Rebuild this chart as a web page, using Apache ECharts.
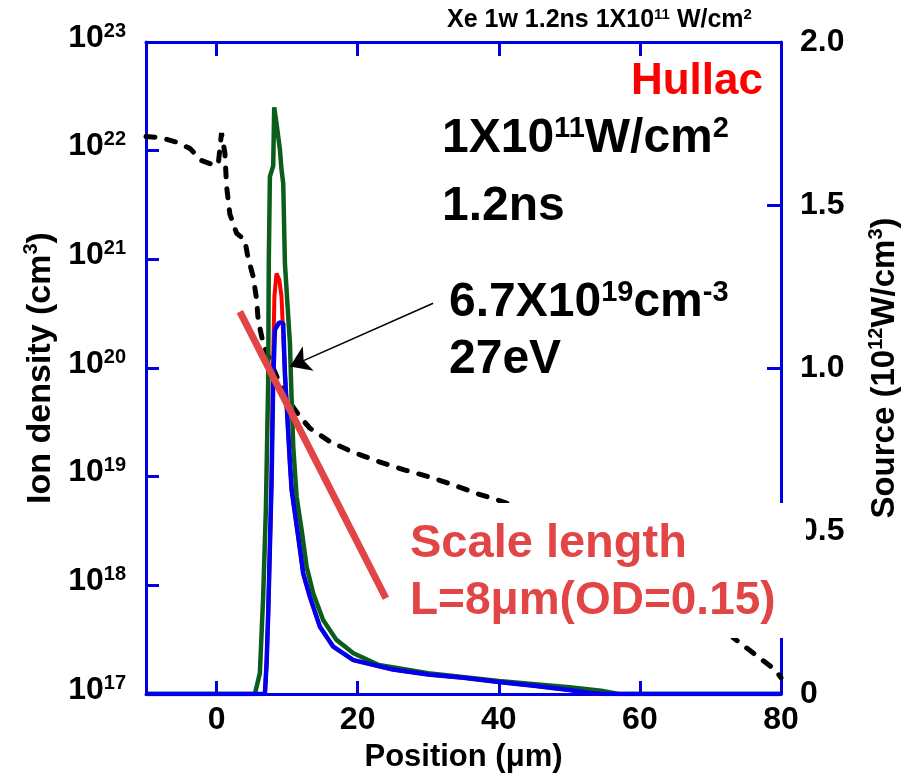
<!DOCTYPE html>
<html><head><meta charset="utf-8">
<script src="https://cdn.jsdelivr.net/npm/echarts@6/dist/echarts.min.js"></script>
<style>html,body{margin:0;padding:0;background:#fff}#c{width:914px;height:778px}</style>
</head><body><div id="c"></div>
<script>
// ---- tick values ----
const xTicks = [0, 20, 40, 60, 80];
const densityTicks = [1e17, 1e18, 1e19, 1e20, 1e21, 1e22, 1e23];
const sourceTicks = [0, 0.5, 1.0, 1.5, 2.0];

// ---- ion density (black dashed, left log axis) ----
const densityX = [-10, -8.0, -5.7, -3.8, -2.1, -0.95, 0.23, 0.7, 1.18, 1.42, 1.89, 2.84, 4.0, 4.44, 5.2, 5.67, 5.9, 6.6, 7.56, 9.69, 11.82, 13.23, 16.07, 19.15, 22.92, 26.71, 30.26, 33.56, 36.88, 40.18, 50, 60, 70, 73.23, 79.2, 80];
const ionDensity = [1.35e22, 1.32e22, 1.20e22, 1.05e22, 8.1e21, 7.6e21, 7.4e21, 1.45e22, 9.5e21, 4.7e21, 2.6e21, 1.74e21, 1.51e21, 1.05e21, 6.9e20, 4.3e20, 2.75e20, 1.7e20, 1.17e20, 5.6e19, 3.56e19, 2.79e19, 2.1e19, 1.7e19, 1.38e19, 1.15e19, 9.9e18, 8.4e18, 7.0e18, 6.0e18, 3.5e18, 1.8e18, 6.3e17, 3.3e17, 1.66e17, 1.41e17];

// ---- source (right linear axis, 10^12 W/cm^3) ----
const greenX = [-10, 5.43, 6.14, 6.61, 7.0, 7.32, 7.4, 7.56, 8.03, 8.17, 8.5, 8.98, 9.2, 9.45, 9.69, 10.4, 10.6, 10.87, 11.35, 12.06, 12.77, 13.7, 15.1, 17.0, 19.4, 23, 30, 40, 50, 54.5, 57, 80];
const sourceGreen = [0, 0, 0.064, 0.3, 0.575, 0.963, 1.32, 1.587, 1.62, 1.80, 1.75, 1.67, 1.61, 1.566, 1.32, 1.075, 0.93, 0.759, 0.605, 0.503, 0.39, 0.309, 0.227, 0.166, 0.125, 0.089, 0.064, 0.04, 0.021, 0.01, 0, 0];

const redX = [-10, 6.85, 7.09, 7.32, 7.8, 8.0, 8.2, 8.5, 8.9, 9.2, 9.45, 9.69, 10.4, 10.64, 11.57, 12.28, 13.23, 14.65, 16.54, 19.4, 25, 30, 35, 40, 45, 50, 53, 55, 80];
const sourceRed = [0, 0, 0.094, 0.247, 0.656, 1.0, 1.22, 1.29, 1.27, 1.22, 1.10, 0.983, 0.708, 0.626, 0.483, 0.37, 0.298, 0.206, 0.145, 0.104, 0.075, 0.06, 0.05, 0.037, 0.025, 0.012, 0.003, 0, 0];

const blueX = [-10, 6.85, 7.09, 7.32, 7.8, 8.03, 8.27, 8.88, 9.45, 9.69, 10.4, 10.64, 11.57, 12.28, 13.23, 14.65, 16.54, 19.4, 25, 30, 35, 40, 45, 50, 53, 55, 80];
const sourceBlue = [0, 0, 0.094, 0.247, 0.656, 0.963, 1.117, 1.14, 1.137, 0.983, 0.708, 0.626, 0.483, 0.37, 0.298, 0.206, 0.145, 0.104, 0.075, 0.06, 0.05, 0.037, 0.025, 0.012, 0.003, 0, 0];

// ---- annotations in data coordinates ----
const scaleLineX = [3.3, 24.0];
const scaleLineN = [3.3e20, 7.6e17];
const arrowX = [30.7, 10.4];
const arrowN = [3.94e20, 1.03e20];

const F = '"Liberation Sans", Arial, sans-serif';
const BLUE = '#0000e6';
const pairs = (xs, ys) => xs.map((x, i) => [x, ys[i]]);

const chart = echarts.init(document.getElementById('c'), null, {renderer: 'canvas'});

const axisLineStyle = {color: BLUE, width: 3};
const tickStyle = {color: BLUE, width: 3};
const lblBase = {fontFamily: F, fontWeight: 'bold', color: '#000'};

chart.setOption({
  animation: false,
  backgroundColor: '#fff',
  grid: {left: 146, right: 133, top: 42, bottom: 84, containLabel: false, outerBoundsMode: 'none'},
  xAxis: [{
    type: 'value', position: 'bottom', min: -10, max: 80,
    axisLine: {show: true, onZero: false, lineStyle: axisLineStyle},
    axisTick: {show: true, inside: true, length: 13, customValues: xTicks, lineStyle: tickStyle},
    axisLabel: Object.assign({customValues: xTicks, margin: 10, fontSize: 32}, lblBase),
    splitLine: {show: false},
    name: 'Position (μm)', nameLocation: 'middle', nameGap: 48,
    nameTextStyle: Object.assign({fontSize: 31}, lblBase)
  }, {
    type: 'value', position: 'top', min: -10, max: 80,
    axisLine: {show: true, onZero: false, lineStyle: axisLineStyle},
    axisTick: {show: true, inside: true, length: 14, customValues: xTicks, lineStyle: tickStyle},
    axisLabel: {show: false},
    splitLine: {show: false}
  }],
  yAxis: [{
    type: 'log', logBase: 10, min: 1e17, max: 1.0000001e23, position: 'left',
    axisLine: {show: true, onZero: false, lineStyle: axisLineStyle},
    axisTick: {show: true, inside: true, length: 13, customValues: densityTicks, lineStyle: tickStyle},
    axisLabel: {
      customValues: densityTicks, margin: 20, padding: [0, 0, 8, 0],
      showMaxLabel: true, showMinLabel: true,
      formatter: v => '{b|10}{s|' + Math.round(Math.log10(v)) + '}',
      rich: {
        b: Object.assign({fontSize: 32, lineHeight: 34, verticalAlign: 'middle'}, lblBase),
        s: Object.assign({fontSize: 20, lineHeight: 16, verticalAlign: 'top'}, lblBase)
      }
    },
    splitLine: {show: false},
    name: '{m|Ion density (cm}{s|3}{m|)}', nameLocation: 'middle', nameRotate: 90, nameGap: 80,
    nameTextStyle: {
      rich: {
        m: Object.assign({fontSize: 34, lineHeight: 38, verticalAlign: 'middle'}, lblBase),
        s: Object.assign({fontSize: 20, lineHeight: 18, verticalAlign: 'top'}, lblBase)
      }
    }
  }, {
    type: 'value', min: 0, max: 2, position: 'right',
    axisLine: {show: true, onZero: false, lineStyle: axisLineStyle},
    axisTick: {show: true, inside: true, length: 14, customValues: sourceTicks, lineStyle: tickStyle},
    axisLabel: Object.assign({customValues: sourceTicks, margin: 19, fontSize: 32,
      formatter: v => v === 0 ? '0' : v.toFixed(1)}, lblBase),
    splitLine: {show: false},
    name: '{m|Source (10}{s|12}{m|W/cm}{s|3}{m|)}', nameLocation: 'middle', nameRotate: 90, nameGap: 85,
    nameTextStyle: {
      rich: {
        m: Object.assign({fontSize: 33, lineHeight: 38, verticalAlign: 'middle'}, lblBase),
        s: Object.assign({fontSize: 20, lineHeight: 18, verticalAlign: 'top'}, lblBase)
      }
    }
  }],
  series: [{
    name: 'Ion density', type: 'line', xAxisIndex: 0, yAxisIndex: 0,
    data: pairs(densityX, ionDensity), showSymbol: false, symbol: 'none', z: 3,
    lineStyle: {color: '#000', width: 5, type: [9, 12], cap: 'round'}
  }, {
    name: 'Source green', type: 'line', xAxisIndex: 0, yAxisIndex: 1,
    data: pairs(greenX, sourceGreen), showSymbol: false, symbol: 'none', z: 4,
    lineStyle: {color: '#0b5e1a', width: 4.5}
  }, {
    name: 'Hullac', type: 'line', xAxisIndex: 0, yAxisIndex: 1,
    data: pairs(redX, sourceRed), showSymbol: false, symbol: 'none', z: 5,
    lineStyle: {color: '#ff0000', width: 4}
  }, {
    name: 'Source blue', type: 'line', xAxisIndex: 0, yAxisIndex: 1,
    data: pairs(blueX, sourceBlue), showSymbol: false, symbol: 'none', z: 6,
    lineStyle: {color: '#0000ee', width: 4.5}
  }, {
    name: 'Scale length', type: 'line', xAxisIndex: 0, yAxisIndex: 0,
    data: pairs(scaleLineX, scaleLineN), showSymbol: false, symbol: 'none', z: 7,
    lineStyle: {color: '#e24545', width: 7},
    markLine: {
      silent: true, symbol: ['none', 'arrow'], symbolSize: 20,
      label: {show: false},
      lineStyle: {color: '#000', width: 1.5, type: 'solid'},
      data: [[{coord: [arrowX[0], arrowN[0]]}, {coord: [arrowX[1], arrowN[1]]}]]
    }
  }],
  graphic: {elements: [
    {type: 'text', x: 447, y: 20, z: 100, style: {
      text: '{m|Xe 1w 1.2ns 1X10}{s|11}{m| W/cm}{s|2}', align: 'left', verticalAlign: 'middle',
      rich: {m: Object.assign({fontSize: 25, lineHeight: 26, verticalAlign: 'middle'}, lblBase),
             s: Object.assign({fontSize: 15, lineHeight: 9, verticalAlign: 'top'}, lblBase)}}},
    {type: 'text', x: 763, y: 82, z: 100, style: {
      text: 'Hullac', align: 'right', verticalAlign: 'middle', fill: '#ff0000',
      font: 'bold 44px ' + F}},
    {type: 'text', x: 442, y: 139, z: 100, style: {
      text: '{m|1X10}{s|11}{m|W/cm}{s|2}', align: 'left', verticalAlign: 'middle',
      rich: {m: Object.assign({fontSize: 48, lineHeight: 50, verticalAlign: 'middle'}, lblBase),
             s: Object.assign({fontSize: 29, lineHeight: 26, verticalAlign: 'top'}, lblBase)}}},
    {type: 'text', x: 442, y: 207, z: 100, style: {
      text: '1.2ns', align: 'left', verticalAlign: 'middle', fill: '#000', font: 'bold 48px ' + F}},
    {type: 'text', x: 449, y: 303, z: 100, style: {
      text: '{m|6.7X10}{s|19}{m|cm}{s|-3}', align: 'left', verticalAlign: 'middle',
      rich: {m: Object.assign({fontSize: 48, lineHeight: 50, verticalAlign: 'middle'}, lblBase),
             s: Object.assign({fontSize: 29, lineHeight: 26, verticalAlign: 'top'}, lblBase)}}},
    {type: 'text', x: 449, y: 360, z: 100, style: {
      text: '27eV', align: 'left', verticalAlign: 'middle', fill: '#000', font: 'bold 48px ' + F}},
    {type: 'rect', z: 99, shape: {x: 400, y: 503, width: 406, height: 135}, style: {fill: '#fff'}},
    {type: 'text', x: 410, y: 544, z: 100, style: {
      text: 'Scale length', align: 'left', verticalAlign: 'middle', fill: '#e24545', font: 'bold 47px ' + F}},
    {type: 'text', x: 410, y: 601, z: 100, style: {
      text: 'L=8μm(OD=0.15)', align: 'left', verticalAlign: 'middle', fill: '#e24545', font: 'bold 46px ' + F}}
  ]}
});
</script></body></html>
